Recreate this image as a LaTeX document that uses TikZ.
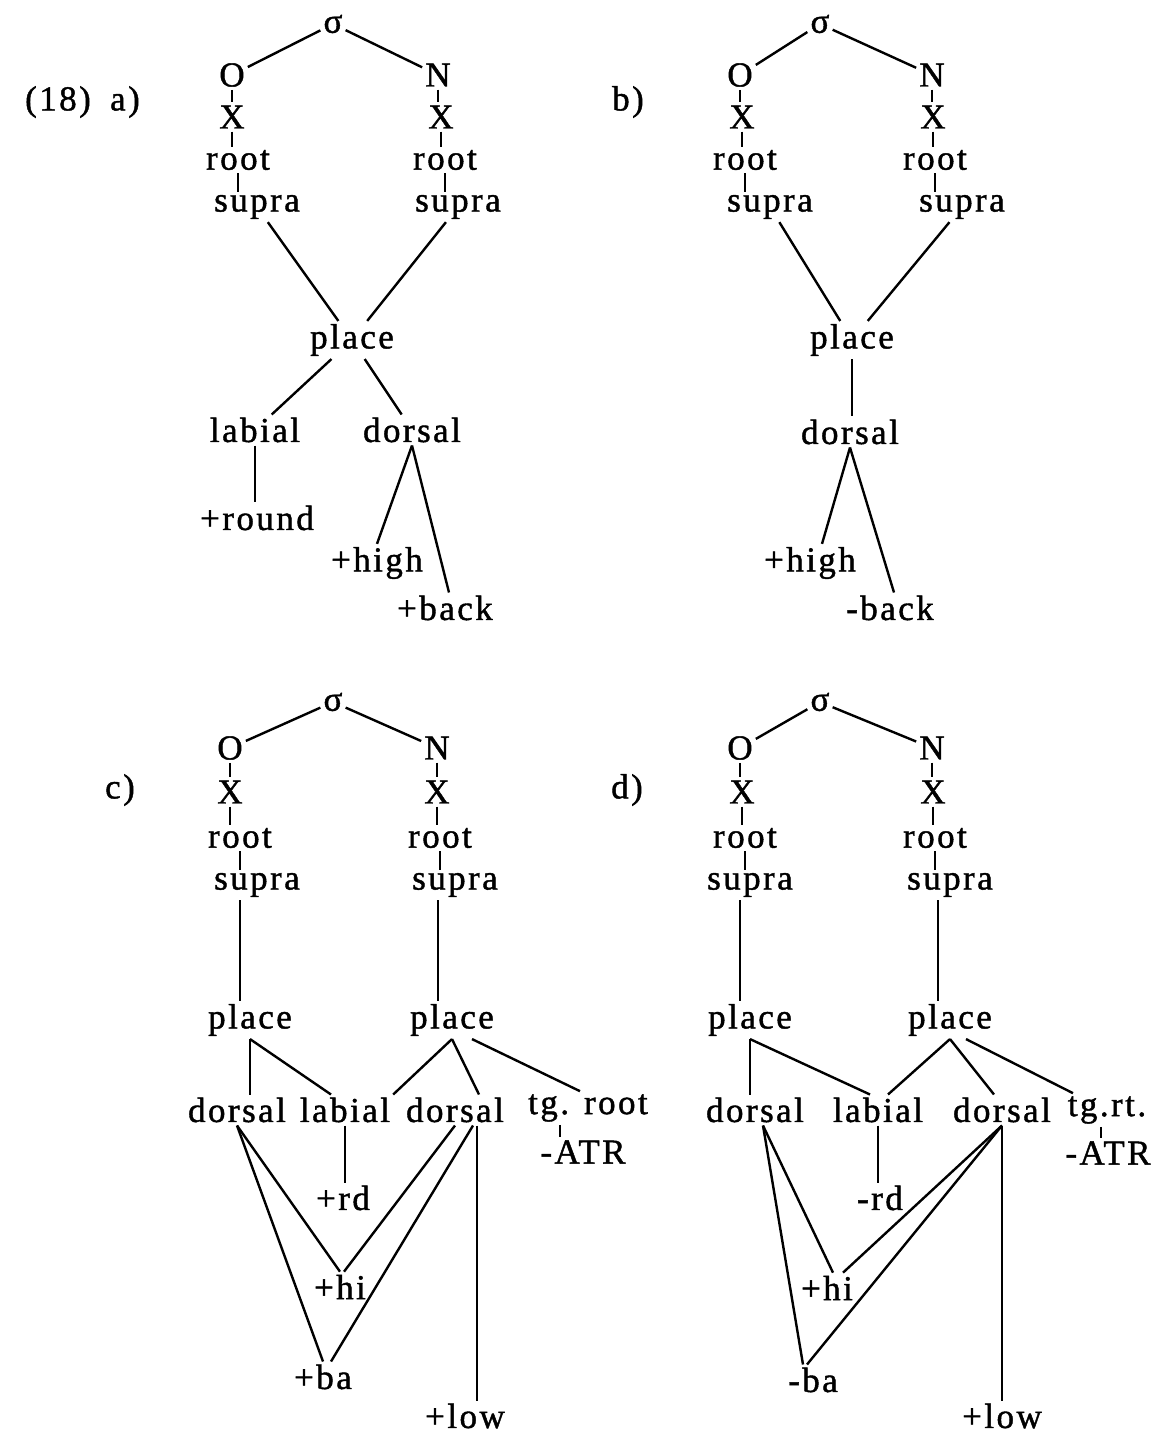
\documentclass[tikz,border=0pt]{standalone}
\usepackage{fontspec}
\setmainfont{Liberation Serif}[LetterSpace=7.0,FakeBold=1.2]
\usepackage{tikz}
\usetikzlibrary{positioning}

\begin{document}
\begin{tikzpicture}[x=0.5pt,y=-0.5pt,line width=1.2pt,
  every node/.style={font=\fontsize{17.5}{20}\selectfont,inner sep=1pt}]
  \useasboundingbox (0,0) rectangle (1164,1437);
  % panel labels
  \node (lab18) at (58,102) {(18)};
  \node (labA) at (125,102) {a)};
  \node (labB) at (628,102) {b)};
  \node (labC) at (120,790) {c)};
  \node (labD) at (627,790) {d)};

  % a)
  \node (sA) at (333,24) {σ};
  \node (OA) at (232,75) {O};
  \node (NA) at (438,75) {N};
  \node (XA1) at (232,117) {X};
  \node (XA2) at (441,117) {X};
  \node (rA1) at (238,160) {root};
  \node (rA2) at (445,160) {root};
  \node (uA1) at (257,207) {supra};
  \node (uA2) at (458,207) {supra};
  \node (pA) at (352,340) {place};
  \node (lA) at (255,430) {labial};
  \node (dA) at (412,430) {dorsal};
  \node (rdA) at (257,518) {+round};
  \node (hiA) at (377,563) {+high};
  \node (baA) at (445,608) {+back};
  \draw (sA) -- (OA);
  \draw (sA) -- (NA);
  \draw (OA.south) -- (OA.south |- XA1.north);
  \draw (NA.south) -- (NA.south |- XA2.north);
  \draw (XA1.south) -- (XA1.south |- rA1.north);
  \draw (XA2.south) -- (XA2.south |- rA2.north);
  \draw (rA1.south) -- (rA1.south |- uA1.north);
  \draw (rA2.south) -- (rA2.south |- uA2.north);
  \draw (uA1) -- (pA);
  \draw (uA2) -- (pA);
  \draw (pA) -- (lA);
  \draw (pA) -- (dA);
  \draw (lA.south) -- (lA.south |- rdA.north);
  \draw (dA.south) -- (hiA.north);
  \draw (dA.south) -- ([xshift=2pt]baA.north);

  % b)
  \node (sB) at (820,24) {σ};
  \node (OB) at (740,75) {O};
  \node (NB) at (932,75) {N};
  \node (XB1) at (742,117) {X};
  \node (XB2) at (933,117) {X};
  \node (rB1) at (745,160) {root};
  \node (rB2) at (935,160) {root};
  \node (uB1) at (770,207) {supra};
  \node (uB2) at (962,207) {supra};
  \node (pB) at (852,340) {place};
  \node (dB) at (850,432) {dorsal};
  \node (hiB) at (810,563) {+high};
  \node (baB) at (890,608) {-back};
  \draw (sB) -- (OB);
  \draw (sB) -- (NB);
  \draw (OB.south) -- (OB.south |- XB1.north);
  \draw (NB.south) -- (NB.south |- XB2.north);
  \draw (XB1.south) -- (XB1.south |- rB1.north);
  \draw (XB2.south) -- (XB2.south |- rB2.north);
  \draw (rB1.south) -- (rB1.south |- uB1.north);
  \draw (rB2.south) -- (rB2.south |- uB2.north);
  \draw (uB1) -- (pB);
  \draw (uB2) -- (pB);
  \draw (pB.south) -- (pB.south |- dB.north);
  \draw (dB.south) -- ([xshift=6pt]hiB.north);
  \draw (dB.south) -- ([xshift=2pt]baB.north);

  % c)
  \node (sC) at (333,702) {σ};
  \node (OC) at (230,748) {O};
  \node (NC) at (437,748) {N};
  \node (XC1) at (230,792) {X};
  \node (XC2) at (437,792) {X};
  \node (rC1) at (240,838) {root};
  \node (rC2) at (440,838) {root};
  \node (uC1) at (257,885) {supra};
  \node (uC2) at (455,885) {supra};
  \node (pC1) at (250,1020) {place};
  \node (pC2) at (452,1020) {place};
  \node (dC1) at (237,1110) {dorsal};
  \node (lC) at (345,1110) {labial};
  \node (dC2) at (455,1110) {dorsal};
  \node (tC) at (588,1108) {tg. root};
  \node (aC) at (583,1152) {-ATR};
  \node (rdC) at (343,1198) {+rd};
  \node (hiC) at (340,1287) {+hi};
  \node (baC) at (323,1377) {+ba};
  \node (loC) at (465,1416) {+low};
  \draw (sC) -- (OC);
  \draw (sC) -- (NC);
  \draw (OC.south) -- (OC.south |- XC1.north);
  \draw (NC.south) -- (NC.south |- XC2.north);
  \draw (XC1.south) -- (XC1.south |- rC1.north);
  \draw (XC2.south) -- (XC2.south |- rC2.north);
  \draw (rC1.south) -- (rC1.south |- uC1.north);
  \draw (rC2.south) -- (rC2.south |- uC2.north);
  \draw ([xshift=-5pt]pC1.north) -- ([xshift=-5pt]pC1.north |- uC1.south);
  \draw ([xshift=-7pt]pC2.north) -- ([xshift=-7pt]pC2.north |- uC2.south);
  \draw (pC1.south) -- (pC1.south |- dC1.north);
  \draw (pC1.south) -- ([xshift=-7pt]lC.north);
  \draw (pC2.south) -- (lC.north east);
  \draw (pC2.south) -- ([xshift=12pt]dC2.north);
  \draw ([xshift=10pt]pC2.south) -- ([xshift=-4pt]tC.north);
  \draw (lC.south) -- (lC.south |- rdC.north);
  \draw ([xshift=-14pt]tC.south) -- ([xshift=-14pt]tC.south |- aC.north);
  \draw (dC1.south) -- (hiC.north);
  \draw (dC1.south) -- (baC.north);
  \draw (dC2.south) -- ([xshift=2pt]hiC.north);
  \draw ([xshift=9pt]dC2.south) -- ([xshift=4pt]baC.north);
  \draw ([xshift=11pt]dC2.south) -- ([xshift=11pt]dC2.south |- loC.north);

  % d)
  \node (sD) at (820,702) {σ};
  \node (OD) at (740,748) {O};
  \node (ND) at (932,748) {N};
  \node (XD1) at (742,792) {X};
  \node (XD2) at (933,792) {X};
  \node (rD1) at (745,838) {root};
  \node (rD2) at (935,838) {root};
  \node (uD1) at (750,885) {supra};
  \node (uD2) at (950,885) {supra};
  \node (pD1) at (750,1020) {place};
  \node (pD2) at (950,1020) {place};
  \node (dD1) at (755,1110) {dorsal};
  \node (lD) at (878,1110) {labial};
  \node (dD2) at (1002,1110) {dorsal};
  \node (tD) at (1107,1110) {tg.rt.};
  \node (aD) at (1108,1153) {-ATR};
  \node (rdD) at (880,1198) {-rd};
  \node (hiD) at (827,1288) {+hi};
  \node (baD) at (813,1380) {-ba};
  \node (loD) at (1002,1416) {+low};
  \draw (sD) -- (OD);
  \draw (sD) -- (ND);
  \draw (OD.south) -- (OD.south |- XD1.north);
  \draw (ND.south) -- (ND.south |- XD2.north);
  \draw (XD1.south) -- (XD1.south |- rD1.north);
  \draw (XD2.south) -- (XD2.south |- rD2.north);
  \draw (rD1.south) -- (rD1.south |- uD1.north);
  \draw (rD2.south) -- (rD2.south |- uD2.north);
  \draw ([xshift=-5pt]pD1.north) -- ([xshift=-5pt]pD1.north |- uD1.south);
  \draw ([xshift=-6pt]pD2.north) -- ([xshift=-6pt]pD2.north |- uD2.south);
  \draw (pD1.south) -- (pD1.south |- dD1.north);
  \draw (pD1.south) -- ([xshift=-4pt]lD.north);
  \draw (pD2.south) -- ([xshift=5pt]lD.north);
  \draw (pD2.south) -- ([xshift=-4pt]dD2.north);
  \draw ([xshift=8pt]pD2.south) -- ([xshift=-17pt]tD.north);
  \draw (lD.south) -- (lD.south |- rdD.north);
  \draw ([xshift=-3pt]tD.south) -- ([xshift=-3pt]tD.south |- aD.north);
  \draw ([xshift=4pt]dD1.south) -- ([xshift=3pt]hiD.north);
  \draw ([xshift=4pt]dD1.south) -- ([xshift=-5pt]baD.north);
  \draw (dD2.south) -- ([xshift=8pt]hiD.north);
  \draw (dD2.south) -- ([xshift=-3pt]baD.north);
  \draw (dD2.south) -- (dD2.south |- loD.north);
\end{tikzpicture}
\end{document}
